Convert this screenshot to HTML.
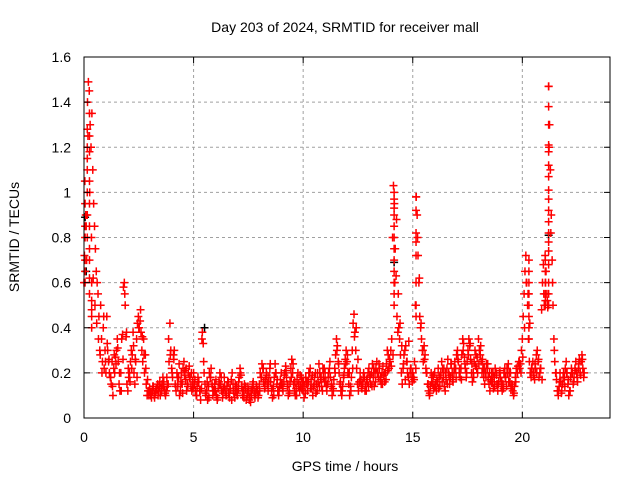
<!DOCTYPE html>
<html><head><meta charset="utf-8"><style>
body{margin:0;background:#fff}
svg{display:block;font-family:"Liberation Sans",sans-serif}
</style></head><body>
<svg id="chart" width="640" height="480" viewBox="0 0 640 480">
<rect width="640" height="480" fill="#fff"/>
<g id="grid"></g>
<g id="pts"></g>
<rect x="84" y="57" width="526" height="361" fill="none" stroke="#000" stroke-width="1"/>
<g id="ticks"></g>
<text x="345" y="32" text-anchor="middle" font-size="14">Day 203 of 2024, SRMTID for receiver mall</text>
<text x="345" y="471" text-anchor="middle" font-size="14">GPS time / hours</text>
<text transform="translate(19,237) rotate(-90)" text-anchor="middle" font-size="14">SRMTID / TECUs</text>
</svg>
<script>
const xTicks=[0,5,10,15,20];
const yTicks=[0,0.2,0.4,0.6,0.8,1,1.2,1.4,1.6];
const yTickLabels=["0","0.2","0.4","0.6","0.8","1","1.2","1.4","1.6"];
const timeStep=0.04;
const values=[
0.6,1.05,0.9,0.7,1.4,1.49,1.45,1.3,1.2,1.35,1.1,0.95,0.85,0.75,0.65,0.6,0.55,0.45,0.3,0.5,0.35,0.25,0.4,0.22,0.3,
0.2,0.45,0.3,0.25,0.2,0.18,0.15,0.25,0.1,0.22,0.2,0.27,0.3,0.35,0.25,0.15,0.12,0.2,0.35,0.37,0.58,0.6,0.5,0.36,0.15,
0.12,0.18,0.2,0.25,0.3,0.28,0.38,0.2,0.15,0.25,0.35,0.42,0.45,0.4,0.43,0.38,0.3,0.25,0.35,0.2,0.28,0.15,0.1,0.12,0.1,
0.13,0.1,0.09,0.12,0.14,0.1,0.11,0.12,0.13,0.15,0.12,0.14,0.1,0.13,0.15,0.18,0.16,0.12,0.1,0.12,0.14,0.15,0.25,0.42,0.3,
0.22,0.18,0.28,0.3,0.15,0.12,0.2,0.14,0.18,0.1,0.12,0.2,0.15,0.22,0.25,0.21,0.17,0.12,0.15,0.2,0.23,0.18,0.14,0.12,0.16,
0.2,0.15,0.12,0.1,0.14,0.18,0.16,0.12,0.08,0.13,0.38,0.33,0.2,0.15,0.1,0.12,0.08,0.14,0.2,0.18,0.22,0.15,0.1,0.12,0.15,
0.12,0.1,0.08,0.13,0.16,0.2,0.15,0.12,0.09,0.13,0.18,0.12,0.1,0.14,0.16,0.11,0.09,0.13,0.17,0.2,0.15,0.11,0.09,0.12,0.14,
0.1,0.13,0.18,0.22,0.19,0.14,0.1,0.12,0.15,0.13,0.08,0.1,0.14,0.12,0.09,0.07,0.1,0.13,0.16,0.12,0.09,0.11,0.14,0.12,0.1,
0.15,0.2,0.18,0.24,0.22,0.16,0.13,0.17,0.2,0.15,0.12,0.18,0.22,0.16,0.12,0.09,0.14,0.18,0.24,0.2,0.15,0.12,0.1,0.14,0.17,
0.2,0.15,0.12,0.16,0.2,0.23,0.18,0.14,0.1,0.12,0.16,0.22,0.26,0.2,0.15,0.12,0.1,0.13,0.17,0.2,0.15,0.12,0.14,0.18,0.16,
0.12,0.09,0.14,0.18,0.15,0.12,0.16,0.2,0.22,0.17,0.13,0.1,0.14,0.18,0.2,0.15,0.12,0.16,0.24,0.2,0.17,0.14,0.12,0.18,0.22,
0.2,0.16,0.12,0.15,0.2,0.22,0.18,0.14,0.1,0.13,0.17,0.22,0.28,0.35,0.32,0.25,0.2,0.15,0.12,0.1,0.14,0.18,0.22,0.26,0.3,
0.25,0.2,0.15,0.1,0.14,0.18,0.3,0.42,0.46,0.38,0.3,0.22,0.15,0.12,0.16,0.2,0.17,0.13,0.15,0.2,0.18,0.14,0.12,0.16,0.2,
0.22,0.18,0.15,0.2,0.24,0.18,0.14,0.2,0.22,0.25,0.2,0.18,0.22,0.17,0.15,0.2,0.23,0.19,0.16,0.2,0.24,0.3,0.28,0.22,0.25,
0.3,0.35,0.8,1.03,0.95,0.75,0.63,0.45,0.38,0.4,0.35,0.28,0.2,0.15,0.22,0.28,0.3,0.32,0.25,0.2,0.18,0.15,0.2,0.22,0.18,
0.2,0.18,0.25,0.5,0.98,0.9,0.72,0.6,0.45,0.4,0.35,0.3,0.25,0.32,0.28,0.22,0.2,0.15,0.12,0.1,0.14,0.2,0.18,0.15,0.13,
0.2,0.15,0.12,0.16,0.22,0.18,0.14,0.2,0.25,0.22,0.18,0.14,0.12,0.17,0.22,0.26,0.2,0.15,0.18,0.24,0.2,0.16,0.2,0.25,0.22,
0.28,0.3,0.25,0.2,0.18,0.22,0.28,0.35,0.33,0.27,0.22,0.18,0.25,0.3,0.35,0.32,0.26,0.2,0.16,0.2,0.25,0.3,0.28,0.22,0.2,
0.35,0.3,0.28,0.25,0.2,0.22,0.18,0.15,0.2,0.24,0.22,0.18,0.15,0.12,0.17,0.2,0.16,0.13,0.18,0.22,0.2,0.15,0.12,0.16,0.2,
0.18,0.14,0.12,0.15,0.2,0.22,0.18,0.14,0.2,0.24,0.2,0.16,0.13,0.15,0.12,0.1,0.14,0.18,0.22,0.2,0.23,0.25,0.22,0.24,0.3,
0.35,0.45,0.55,0.65,0.72,0.6,0.5,0.35,0.25,0.2,0.18,0.22,0.25,0.2,0.17,0.22,0.28,0.3,0.25,0.18,0.2,0.22,0.48,0.6,0.68,
0.5,0.72,0.65,0.55,0.49,1.47,1.3,1.1,0.9,0.7,0.5,0.35,0.25,0.2,0.17,0.12,0.1,0.14,0.2,0.16,0.12,0.15,0.2,0.18,0.22,
0.25,0.2,0.15,0.1,0.12,0.18,0.22,0.2,0.15,0.18,0.22,0.25,0.2,0.16,0.22,0.26,0.2,0.25,0.28,0.22,0.18
];
const timeStepB=0.08;
const valuesB=[
0.72,0.85,1.25,1.0,0.8,0.62,0.5,0.42,0.35,0.28,0.2,0.45,0.25,
0.33,0.26,0.18,0.14,0.28,0.24,0.31,0.2,0.12,0.26,0.55,0.38,0.22,
0.16,0.22,0.32,0.26,0.18,0.4,0.48,0.36,0.28,0.22,0.17,0.12,
0.11,0.14,0.09,0.13,0.1,0.16,0.12,0.14,0.11,0.18,0.35,0.28,0.2,
0.26,0.14,0.18,0.24,0.16,0.11,0.19,0.22,0.14,0.18,0.2,0.13,
0.17,0.1,0.16,0.12,0.35,0.25,0.11,0.16,0.09,0.18,0.14,0.12,0.17,
0.09,0.15,0.18,0.11,0.14,0.1,0.16,0.13,0.08,0.12,0.15,0.11,
0.16,0.2,0.12,0.09,0.14,0.11,0.08,0.12,0.15,0.1,0.13,0.09,0.12,
0.18,0.22,0.14,0.19,0.16,0.24,0.13,0.1,0.2,0.17,0.12,0.15,
0.13,0.19,0.21,0.15,0.11,0.18,0.24,0.16,0.1,0.14,0.19,0.13,0.16,
0.11,0.16,0.2,0.13,0.19,0.15,0.11,0.2,0.14,0.18,0.22,0.16,
0.14,0.18,0.25,0.15,0.12,0.2,0.3,0.24,0.16,0.12,0.19,0.24,0.28,
0.2,0.12,0.22,0.36,0.4,0.26,0.16,0.14,0.18,0.12,0.17,0.14,
0.19,0.14,0.22,0.16,0.2,0.24,0.18,0.15,0.2,0.17,0.21,0.26,0.23,
0.28,0.6,0.88,0.55,0.42,0.32,0.24,0.17,0.25,0.34,0.22,0.16,
0.17,0.22,0.8,0.62,0.42,0.3,0.26,0.2,0.15,0.11,0.16,0.19,0.14,
0.17,0.13,0.19,0.16,0.22,0.2,0.15,0.19,0.24,0.17,0.22,0.18,
0.26,0.22,0.17,0.3,0.24,0.2,0.28,0.33,0.24,0.18,0.23,0.27,0.24,
0.32,0.26,0.22,0.18,0.24,0.2,0.16,0.2,0.14,0.19,0.15,0.21,
0.16,0.13,0.18,0.22,0.16,0.2,0.14,0.11,0.16,0.2,0.25,0.2,0.27,
0.4,0.6,0.55,0.42,0.22,0.19,0.24,0.2,0.26,0.22,0.17,0.55,
0.6,0.52,1.2,0.82,0.6,0.3,0.2,0.12,0.16,0.11,0.18,0.14,0.2,
0.17,0.12,0.2,0.16,0.21,0.18,0.24,0.19,0.26,0.2
];
const spikeTimes=[0.05,0.05,0.05,0.05,0.05,0.05,0.15,0.15,0.15,0.15,0.15,0.15,0.15,0.25,0.25,0.25,0.25,0.25,0.25,0.25,0.25,0.25,0.25,0.35,0.35,0.35,0.35,0.35,
14.15,14.15,14.15,14.15,14.15,14.15,14.15,14.15,14.15,14.15,14.15,14.15,
15.15,15.15,15.15,15.15,15.15,15.15,15.15,15.15,
21.2,21.2,21.2,21.2,21.2,21.2,21.2,21.2,21.2,21.2,21.2,21.2,21.2,21.2,21.2,21.2,21.2,21.2,
20.3,20.3,20.3,20.3,20.3,20.3,20.3,20.3,21.05,21.05,21.05,21.05,21.05,21.05];
const spikeValues=[0.95,0.85,0.8,0.7,0.65,0.6,1.28,1.2,1.15,1.1,1.0,0.9,0.8,1.35,1.25,1.18,1.05,0.95,0.85,0.75,0.7,0.62,0.55,0.6,0.52,0.48,0.45,0.4,
1.0,0.97,0.93,0.9,0.85,0.8,0.75,0.7,0.65,0.6,0.55,0.5,
0.98,0.92,0.82,0.78,0.72,0.6,0.5,0.45,
1.47,1.38,1.3,1.21,1.18,1.12,1.07,1.01,0.97,0.92,0.87,0.82,0.78,0.74,0.68,0.6,0.55,0.5,
0.7,0.65,0.6,0.55,0.5,0.45,0.4,0.35,0.7,0.65,0.6,0.55,0.52,0.5];
const blackTimes=[0.05,0.1,5.5,21.2,14.15];
const blackValues=[0.89,0.65,0.4,0.81,0.69];

const X0=84,X1=610,Y0=418,Y1=57,XMAX=24,YMAX=1.6;
const xs=v=>X0+(X1-X0)*v/XMAX;
const ys=v=>Y0-(Y0-Y1)*v/YMAX;
const NS="http://www.w3.org/2000/svg";
const grid=document.getElementById('grid'),ticks=document.getElementById('ticks'),pts=document.getElementById('pts');
function mk(tag,attrs,parent){const e=document.createElementNS(NS,tag);for(const k in attrs)e.setAttribute(k,attrs[k]);parent.appendChild(e);return e;}
xTicks.forEach(t=>{
  const x=xs(t);
  if(t>0){const g=mk('line',{x1:x,x2:x,y1:Y1,y2:Y0,stroke:'#a0a0a0','stroke-dasharray':'3,3'},grid);
  
  }
  mk('line',{x1:x,x2:x,y1:Y0,y2:Y0-6,stroke:'#000'},ticks);
  mk('line',{x1:x,x2:x,y1:Y1,y2:Y1+6,stroke:'#000'},ticks);
  const l=mk('text',{x:x,y:442,'text-anchor':'middle','font-size':'14'},ticks);
  l.textContent=t;
  
  
});
yTicks.forEach((t,i)=>{
  const y=ys(t);
  if(t>0&&t<YMAX){const g=mk('line',{x1:X0,x2:X1,y1:y,y2:y,stroke:'#a0a0a0','stroke-dasharray':'3,3'},grid);
  
  }
  mk('line',{x1:X0,x2:X0+6,y1:y,y2:y,stroke:'#000'},ticks);
  mk('line',{x1:X1,x2:X1-6,y1:y,y2:y,stroke:'#000'},ticks);
  const l=mk('text',{x:71,y:y+5,'text-anchor':'end','font-size':'14'},ticks);
  l.textContent=yTickLabels[i];
  
  
});
function cross(t,v,color){
  const x=xs(t),y=ys(v);
  const p=mk('path',{d:`M${x-4} ${y}H${x+4}M${x} ${y-4}V${y+4}`,stroke:color,'stroke-width':'1.5',fill:'none'},pts);
  
  
}
blackTimes.forEach((t,i)=>cross(t,blackValues[i],'#000'));
values.forEach((v,i)=>cross(i*timeStep,v,'#f00'));
valuesB.forEach((v,i)=>cross(0.02+i*timeStepB,v,'#f00'));
spikeTimes.forEach((t,i)=>cross(t,spikeValues[i],'#f00'));
</script>
</body></html>
